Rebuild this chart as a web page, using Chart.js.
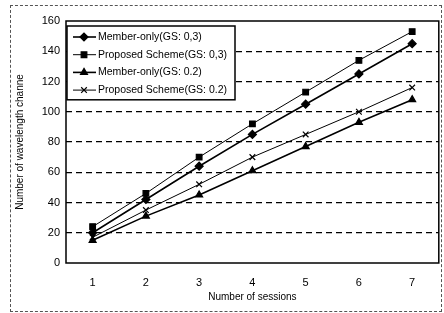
<!DOCTYPE html>
<html>
<head>
<meta charset="utf-8">
<script src="https://cdn.jsdelivr.net/npm/chart.js@4"></script>
<style>
  body { margin: 0; background: #fff; }
  #wrap { position: relative; width: 444px; height: 313px; }
  #frame { position: absolute; left: 10px; top: 5px; width: 432px; height: 307px; border: 1px dashed #555; box-sizing: border-box; pointer-events: none; }
</style>
</head>
<body>
<div id="wrap">
  <canvas id="chart" width="444" height="313"></canvas>
  <div id="frame"></div>
</div>
<script>
const sessions = ['1', '2', '3', '4', '5', '6', '7'];
const memberOnly03 = [20, 42, 64, 85, 105, 125, 145];
const proposed03 = [24, 46, 70, 92, 113, 134, 153];
const memberOnly02 = [15, 31, 45, 61, 77, 93, 108];
const proposed02 = [17, 35, 52, 70, 85, 100, 116];
const seriesNames = ['Member-only(GS: 0,3)', 'Proposed Scheme(GS: 0,3)', 'Member-only(GS: 0.2)', 'Proposed Scheme(GS: 0.2)'];

const FONT = 'Arial, "Liberation Sans", sans-serif';

function makeSet(label, data, style, width) {
    return {
        label: label,
        data: data,
        borderColor: '#000',
        backgroundColor: '#000',
        borderWidth: width,
        pointStyle: style,
        pointRadius: 4,
        pointBorderWidth: 1.2,
        fill: false,
        tension: 0
    };
}

// solid plot frame + boxed legend inside the plot, top-left
const boxLegend = {
    id: 'boxLegend',
    afterDatasetsDraw(chart) {
        const ctx = chart.ctx;
        const a = chart.chartArea;
        ctx.save();
        ctx.strokeStyle = '#000';
        ctx.lineWidth = 1.5;
        ctx.setLineDash([]);
        ctx.strokeRect(a.left, a.top, a.right - a.left, a.bottom - a.top);

        const x0 = a.left + 1, y0 = a.top + 5, w = 168, rowH = 17.7;
        ctx.fillStyle = '#fff';
        ctx.fillRect(x0, y0, w, rowH * 4 + 3);
        ctx.strokeRect(x0, y0, w, rowH * 4 + 3);
        ctx.font = '10.5px ' + FONT;
        ctx.textBaseline = 'middle';
        chart.data.datasets.forEach((ds, i) => {
            const cy = y0 + 11 + i * rowH;
            ctx.strokeStyle = '#000';
            ctx.lineWidth = ds.borderWidth;
            ctx.beginPath();
            ctx.moveTo(x0 + 6, cy);
            ctx.lineTo(x0 + 29, cy);
            ctx.stroke();
            ctx.fillStyle = '#000';
            ctx.lineWidth = 1.2;
            Chart.helpers.drawPoint(ctx, { pointStyle: ds.pointStyle, radius: 4, borderWidth: 1.2 }, x0 + 17, cy);
            ctx.fillStyle = '#000';
            ctx.fillText(ds.label, x0 + 31, cy);
        });
        ctx.restore();
    }
};

new Chart(document.getElementById('chart'), {
    type: 'line',
    data: {
        labels: sessions,
        datasets: [
            makeSet(seriesNames[0], memberOnly03, 'rectRot', 1.6),
            makeSet(seriesNames[1], proposed03, 'rect', 1),
            makeSet(seriesNames[2], memberOnly02, 'triangle', 1.6),
            makeSet(seriesNames[3], proposed02, 'crossRot', 1)
        ]
    },
    options: {
        responsive: false,
        animation: false,
        layout: { padding: { left: 10, top: 21, right: 5, bottom: 10 } },
        plugins: {
            legend: { display: false },
            tooltip: { enabled: false }
        },
        scales: {
            y: {
                min: 0,
                max: 160,
                ticks: { stepSize: 20, color: '#000', font: { size: 11, family: FONT }, padding: 6 },
                grid: {
                    color: (c) => (c.tick.value === 0 || c.tick.value === 160) ? 'rgba(0,0,0,0)' : '#000',
                    lineWidth: 1.3,
                    drawTicks: false
                },
                border: { display: false, dash: [6, 4] },
                title: { display: true, text: 'Number of wavelength channe', color: '#000', font: { size: 10, family: FONT } },
                afterFit(scale) { scale.width = 56; }
            },
            x: {
                offset: true,
                ticks: { color: '#000', font: { size: 11, family: FONT }, padding: 5 },
                grid: { display: false },
                border: { display: false },
                title: { display: true, text: 'Number of sessions', color: '#000', font: { size: 10, family: FONT }, padding: { top: 4, bottom: 0 } },
                afterFit(scale) { scale.height = 40; }
            }
        }
    },
    plugins: [boxLegend]
});
</script>
</body>
</html>
